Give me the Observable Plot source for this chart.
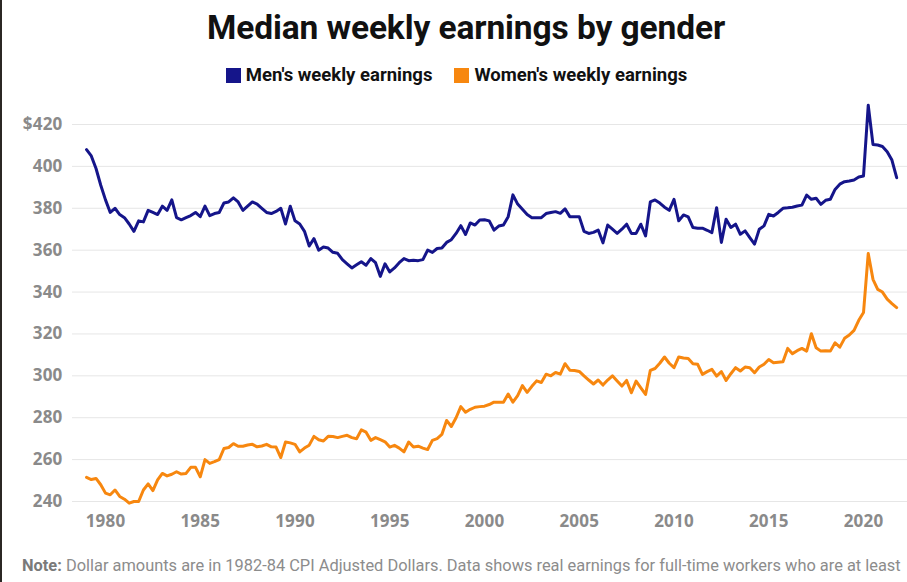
<!DOCTYPE html>
<html>
<head>
<meta charset="utf-8">
<script src="https://cdn.jsdelivr.net/npm/d3@7"></script>
<script src="https://cdn.jsdelivr.net/npm/@observablehq/plot@0.6"></script>
<style>
  html, body { margin: 0; padding: 0; background: #fff; }
  body { width: 907px; height: 582px; position: relative; overflow: hidden; font-family: Roboto, "Liberation Sans", sans-serif; }
  #edge { position: absolute; left: 0; top: 0; width: 2px; height: 582px; background: #2b2724; }
  #title { position: absolute; left: 0; top: 8px; width: 907px; padding-left: 25px; box-sizing: border-box; text-align: center;
           font-size: 33.5px; line-height: 40px; font-weight: 700; color: #111; letter-spacing: -0.1px; }
  #legend { position: absolute; left: 0; top: 63px; width: 907px; padding-left: 6px; box-sizing: border-box; text-align: center;
            font-size: 18.5px; line-height: 24px; font-weight: 700; color: #111; white-space: nowrap; }
  #legend .sw { display: inline-block; width: 15px; height: 15px; vertical-align: -2px; margin-right: 5px; }
  #legend .item { margin: 0 11px; }
  #chart { position: absolute; left: 0; top: 100px; }
  #chart svg text { font-family: "Open Sans", Roboto, sans-serif; font-weight: 700; font-size: 17px; fill: #8a8a8a; letter-spacing: 0.2px; }
  #note { position: absolute; left: 22px; top: 556px; white-space: nowrap;
          font-size: 16.4px; line-height: 20px; color: #8c8c8c; }
  #note b { color: #7a7a7a; font-weight: 700; }
</style>
</head>
<body>
<div id="edge"></div>
<div id="title">Median weekly earnings by gender</div>
<div id="legend"><span class="item"><span class="sw" style="background:#15158a"></span>Men's weekly earnings</span><span class="item"><span class="sw" style="background:#f7870f"></span>Women's weekly earnings</span></div>
<div id="chart"></div>
<div id="note"><b>Note:</b> Dollar amounts are in 1982-84 CPI Adjusted Dollars. Data shows real earnings for full-time workers who are at least</div>
<script>
// Quarterly series, first value = 1979 Q1 (1982-84 dollars)
const startYear = 1979;
const seriesNames = ["Men's weekly earnings", "Women's weekly earnings"];
const seriesColors = ["#15158a", "#f7870f"];
const menWeekly = [
  408, 405, 399, 391,       // 1979
  384, 378, 380, 377,       // 1980
  375.5, 372.5, 369, 374,   // 1981
  373.5, 379, 378, 377,     // 1982
  381, 379, 384, 375.5,     // 1983
  374.5, 375.5, 376.5, 378, // 1984
  376, 381, 376.5, 377.5,   // 1985
  378, 382.5, 383, 385,     // 1986
  383, 379, 381, 383,       // 1987
  382, 380, 378, 377.5,     // 1988
  378.5, 380, 372.5, 381,   // 1989
  374, 372.5, 369, 362,     // 1990
  365.5, 360, 361.5, 361,   // 1991
  359, 358.5, 355.5, 353.5, // 1992
  351.5, 353, 354.5, 352.8, // 1993
  356, 354, 347.5, 353.5,   // 1994
  349.6, 351.5, 354, 356,   // 1995
  355, 355.2, 355, 355.5,   // 1996
  360, 358.9, 360.8, 361,   // 1997
  363.7, 365, 368, 371.7,   // 1998
  367.5, 373, 372, 374.4,   // 1999
  374.5, 374, 369.6, 371.5, // 2000
  372, 376, 386.4, 382,     // 2001
  379.5, 377, 375.5, 375.5, // 2002
  375.5, 377.5, 378, 378.4, // 2003
  377.6, 379.7, 376, 376,   // 2004
  376, 369, 368, 368.5,     // 2005
  369.6, 363.5, 372, 370,   // 2006
  368, 370, 372.4, 368,     // 2007
  368, 372.4, 366.8, 383,   // 2008
  384, 382.5, 380.5, 379,   // 2009
  384.3, 374, 376.8, 375.9, // 2010
  370.8, 370.5, 370.5, 369.5, // 2011
  368.4, 380.3, 363.7, 374.8, // 2012
  370.8, 372.4, 367.6, 369.2, // 2013
  366, 362.9, 370, 371.6,   // 2014
  377.1, 376.3, 378, 380,   // 2015
  380.2, 380.5, 381.1, 381.5, // 2016
  386.3, 384.3, 384.8, 381.9, // 2017
  383.8, 384.3, 389, 391.5, // 2018
  392.7, 393, 393.5, 394.9, // 2019
  395.4, 429.2, 410.5, 410.2, // 2020
  409.5, 407, 403, 394.6    // 2021
];
const womenWeekly = [
  251.5, 250.5, 251, 248,   // 1979
  244, 243.2, 245.5, 242.4, // 1980
  241.1, 239.2, 240, 240,   // 1981
  245.5, 248.4, 245.2, 250.3, // 1982
  253.4, 252.2, 253, 254.2, // 1983
  253.1, 253.4, 256.3, 256.3, // 1984
  251.8, 260, 258.2, 259,   // 1985
  260, 265.3, 265.8, 267.6, // 1986
  266.4, 266.4, 267, 267.3, // 1987
  266.1, 266.5, 267.3, 266.1, // 1988
  266, 261, 268.4, 268,     // 1989
  267.3, 263.7, 265.5, 266.9, // 1990
  271.1, 269.5, 268.9, 271.1, // 1991
  271, 270.5, 271.1, 271.6, // 1992
  270.5, 270, 274.2, 273.1, // 1993
  269.2, 270.5, 269.5, 268.5, // 1994
  266, 266.8, 265.5, 263.7, // 1995
  268.4, 266, 266.4, 265.5, // 1996
  264.8, 269.2, 270, 272,   // 1997
  278.7, 275.8, 280, 285.3, // 1998
  282.6, 284, 285, 285.3,   // 1999
  285.5, 286.3, 287.4, 287.4, // 2000
  287.4, 291.3, 287.4, 290.5, // 2001
  295.3, 292.1, 295, 297.6, // 2002
  296.8, 300.8, 300, 301.6, // 2003
  300.8, 305.8, 302.7, 302.5, // 2004
  302.1, 300, 298, 296.1,   // 2005
  298, 295.6, 298, 300,     // 2006
  297.5, 295.1, 297.8, 291.9, // 2007
  297.5, 294.3, 291.1, 302.6, // 2008
  303.5, 306, 309, 306,     // 2009
  303.9, 309, 308.5, 308.3, // 2010
  305.8, 305.5, 300.7, 302, // 2011
  303.1, 299.9, 302, 297.8, // 2012
  301, 303.9, 302.3, 304.2, // 2013
  303.9, 301.5, 304.2, 305.5, // 2014
  307.8, 306.3, 306.5, 306.7, // 2015
  313.1, 310.6, 312, 313.1, // 2016
  311.8, 320.1, 313.4, 311.8, // 2017
  312, 311.8, 315.8, 313.7, // 2018
  317.9, 319.5, 321.7, 326.5, // 2019
  330.2, 358.4, 346.1, 341.3, // 2020
  340, 336.6, 334.5, 332.6  // 2021
];
const yTicks = [240, 260, 280, 300, 320, 340, 360, 380, 400, 420];
const xTicks = [1980, 1985, 1990, 1995, 2000, 2005, 2010, 2015, 2020];

const rows = [
  ...menWeekly.map((v, i) => ({t: startYear + i / 4, v, s: seriesNames[0]})),
  ...womenWeekly.map((v, i) => ({t: startYear + i / 4, v, s: seriesNames[1]}))
];

const chart = Plot.plot({
  width: 907,
  height: 440,
  marginLeft: 72,
  marginRight: 0,
  marginTop: 24,
  marginBottom: 39,
  x: {domain: [1980, 2020], range: [105, 863]},
  y: {domain: [240, 420]},
  color: {domain: seriesNames, range: seriesColors},
  marks: [
    Plot.ruleY(yTicks, {stroke: "#e6e6e6", strokeWidth: 1}),
    Plot.axisY({ticks: yTicks, tickSize: 0, tickPadding: 10, label: null,
                tickFormat: d => d === 420 ? "$420" : String(d)}),
    Plot.axisX({ticks: xTicks, tickSize: 0, tickPadding: 13, label: null,
                tickFormat: d => String(d)}),
    Plot.line(rows, {x: "t", y: "v", z: "s", stroke: "s", strokeWidth: 3,
                     strokeLinejoin: "round", strokeLinecap: "round"})
  ]
});
document.getElementById("chart").appendChild(chart);
</script>
</body>
</html>
